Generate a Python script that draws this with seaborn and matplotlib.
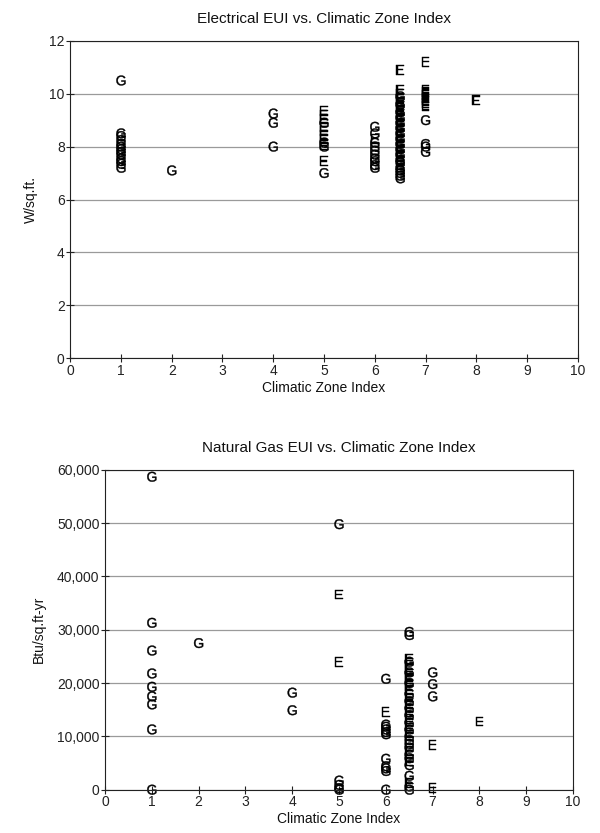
import pandas as pd
import matplotlib
matplotlib.use('Agg')
import matplotlib.pyplot as plt
import seaborn as sns
from matplotlib.ticker import FuncFormatter

# Electrical EUI (W/sq.ft.) per climatic zone, letter = heating fuel
elec_zone = ([1] * 13 + [2] + [4] * 3 + [5] * 13 + [6] * 11 + [6.5] * 35
             + [7] * 12 + [8])
elec_eui = [10.5, 8.5, 8.4, 8.25, 8.1, 8.0, 7.9, 7.8, 7.7, 7.55, 7.45, 7.35, 7.2,
            7.1,
            9.25, 8.9, 8.0,
            9.35, 9.2, 9.05, 8.9, 8.75, 8.6, 8.45, 8.3, 8.15, 8.05, 8.0, 7.45, 7.0,
            8.75, 8.5, 8.3, 8.15, 8.0, 7.85, 7.7, 7.55, 7.45, 7.3, 7.2,
            10.9, 10.15, 10.0, 9.9, 9.8, 9.7, 9.6, 9.5, 9.4, 9.3, 9.2, 9.1,
            9.0, 8.9, 8.8, 8.7, 8.6, 8.5, 8.4, 8.3, 8.2, 8.1, 8.0, 7.9,
            7.8, 7.7, 7.6, 7.5, 7.4, 7.3, 7.2, 7.1, 7.0, 6.9, 6.8,
            11.2, 10.15, 10.05, 9.95, 9.85, 9.75, 9.65, 9.55, 9.0, 8.1, 8.0, 7.8,
            9.75]
elec_fuel = (['G'] * 13 + ['G'] + ['G'] * 3
             + ['E', 'E', 'E', 'G', 'E', 'E', 'E', 'E', 'G', 'E', 'G', 'E', 'G']
             + ['G', 'G', 'E', 'G', 'G', 'G', 'G', 'G', 'G', 'G', 'G']
             + ['E', 'E', 'E', 'G', 'E', 'E', 'G', 'E', 'E', 'G', 'E', 'G',
                'E', 'G', 'E', 'G', 'E', 'G', 'E', 'G', 'E', 'G', 'E', 'G',
                'E', 'G', 'E', 'G', 'G', 'E', 'G', 'G', 'G', 'G', 'G']
             + ['E'] * 8 + ['G'] * 4
             + ['E'])

# Natural gas EUI (Btu/sq.ft-yr) per climatic zone
gas_zone = ([1] * 9 + [2] + [4] * 2 + [5] * 7 + [6] * 12 + [6.5] * 37
            + [7] * 5 + [8])
gas_eui = [58700, 31300, 26100, 21800, 19300, 17500, 16000, 11300, 0,
           27500,
           18200, 14900,
           49800, 36600, 24000, 1700, 900, 300, 0,
           20800, 14600, 12200, 11800, 11300, 10800, 10400, 5800, 4400, 4000, 3500, 0,
           29600, 29000, 24500, 24000, 23400, 22600, 22000, 21400, 20700, 20000,
           19400, 18700, 18000, 17300, 16600, 16000, 15300, 14600, 14000, 13300,
           12600, 12000, 11300, 10700, 10000, 9300, 8600, 7900, 7300, 6600,
           5900, 5300, 4600, 2600, 1200, 600, 0,
           22000, 19800, 17500, 8400, 300,
           12800]
gas_fuel = (['G'] * 9 + ['G'] + ['G'] * 2
            + ['G', 'E', 'E', 'G', 'G', 'G', 'G']
            + ['G', 'E', 'G', 'G', 'G', 'G', 'G', 'G', 'G', 'G', 'G', 'G']
            + ['G', 'G', 'E', 'G', 'E', 'E', 'G', 'E', 'E', 'G', 'E', 'E',
               'G', 'E', 'G', 'E', 'G', 'E', 'G', 'E', 'G', 'E', 'G', 'E',
               'G', 'G', 'G', 'G', 'E', 'G', 'G', 'E', 'G', 'G', 'E', 'G', 'G']
            + ['G', 'G', 'G', 'E', 'E']
            + ['E'])

elec = pd.DataFrame({'zone': elec_zone, 'eui': elec_eui, 'fuel': elec_fuel})
gas = pd.DataFrame({'zone': gas_zone, 'eui': gas_eui, 'fuel': gas_fuel})

sns.set_theme(style='white')
plt.rcParams['font.family'] = ['Liberation Sans', 'DejaVu Sans']
plt.rcParams['mathtext.fontset'] = 'custom'
plt.rcParams['mathtext.sf'] = 'Liberation Sans'

letters = {'G': r'$\mathsf{G}$', 'E': r'$\mathsf{E}$'}


def style_axes(ax, ymax, ystep, title, ylabel):
    ax.set_xlim(0, 10)
    ax.set_ylim(0, ymax)
    ax.set_xticks(range(0, 11))
    ax.set_yticks(range(0, ymax + 1, ystep))
    ax.yaxis.grid(True, color='#9a9a9a', linewidth=0.9)
    ax.set_axisbelow(True)
    for s in ax.spines.values():
        s.set_color('#222222')
        s.set_linewidth(0.8)
    ax.tick_params(axis='both', direction='inout', length=6, width=0.8,
                   colors='#222222', labelsize=10, left=True, bottom=True, pad=1)
    ax.set_title(title, fontsize=11, color='#111111', pad=13)
    ax.set_xlabel('Climatic Zone Index', fontsize=10, color='#111111', labelpad=2)
    ax.set_ylabel(ylabel, fontsize=10, color='#111111', labelpad=8)


fig = plt.figure(figsize=(6, 8.33), dpi=100)
ax1 = fig.add_axes([0.117, 0.570, 0.846, 0.381])
ax2 = fig.add_axes([0.175, 0.052, 0.780, 0.384])

sns.scatterplot(data=elec, x='zone', y='eui', style='fuel', markers=letters,
                color='black', s=50, linewidth=0.3, edgecolor='black',
                ax=ax1, clip_on=False, legend=False)
sns.scatterplot(data=gas, x='zone', y='eui', style='fuel', markers=letters,
                color='black', s=50, linewidth=0.3, edgecolor='black',
                ax=ax2, clip_on=False, legend=False)

style_axes(ax1, 12, 2, 'Electrical EUI vs. Climatic Zone Index', 'W/sq.ft.')
style_axes(ax2, 60000, 10000, 'Natural Gas EUI vs. Climatic Zone Index', 'Btu/sq.ft-yr')
ax2.yaxis.set_major_formatter(FuncFormatter(lambda v, p: f'{int(v):,}'))

fig.savefig('out.png', dpi=100, facecolor='white')
